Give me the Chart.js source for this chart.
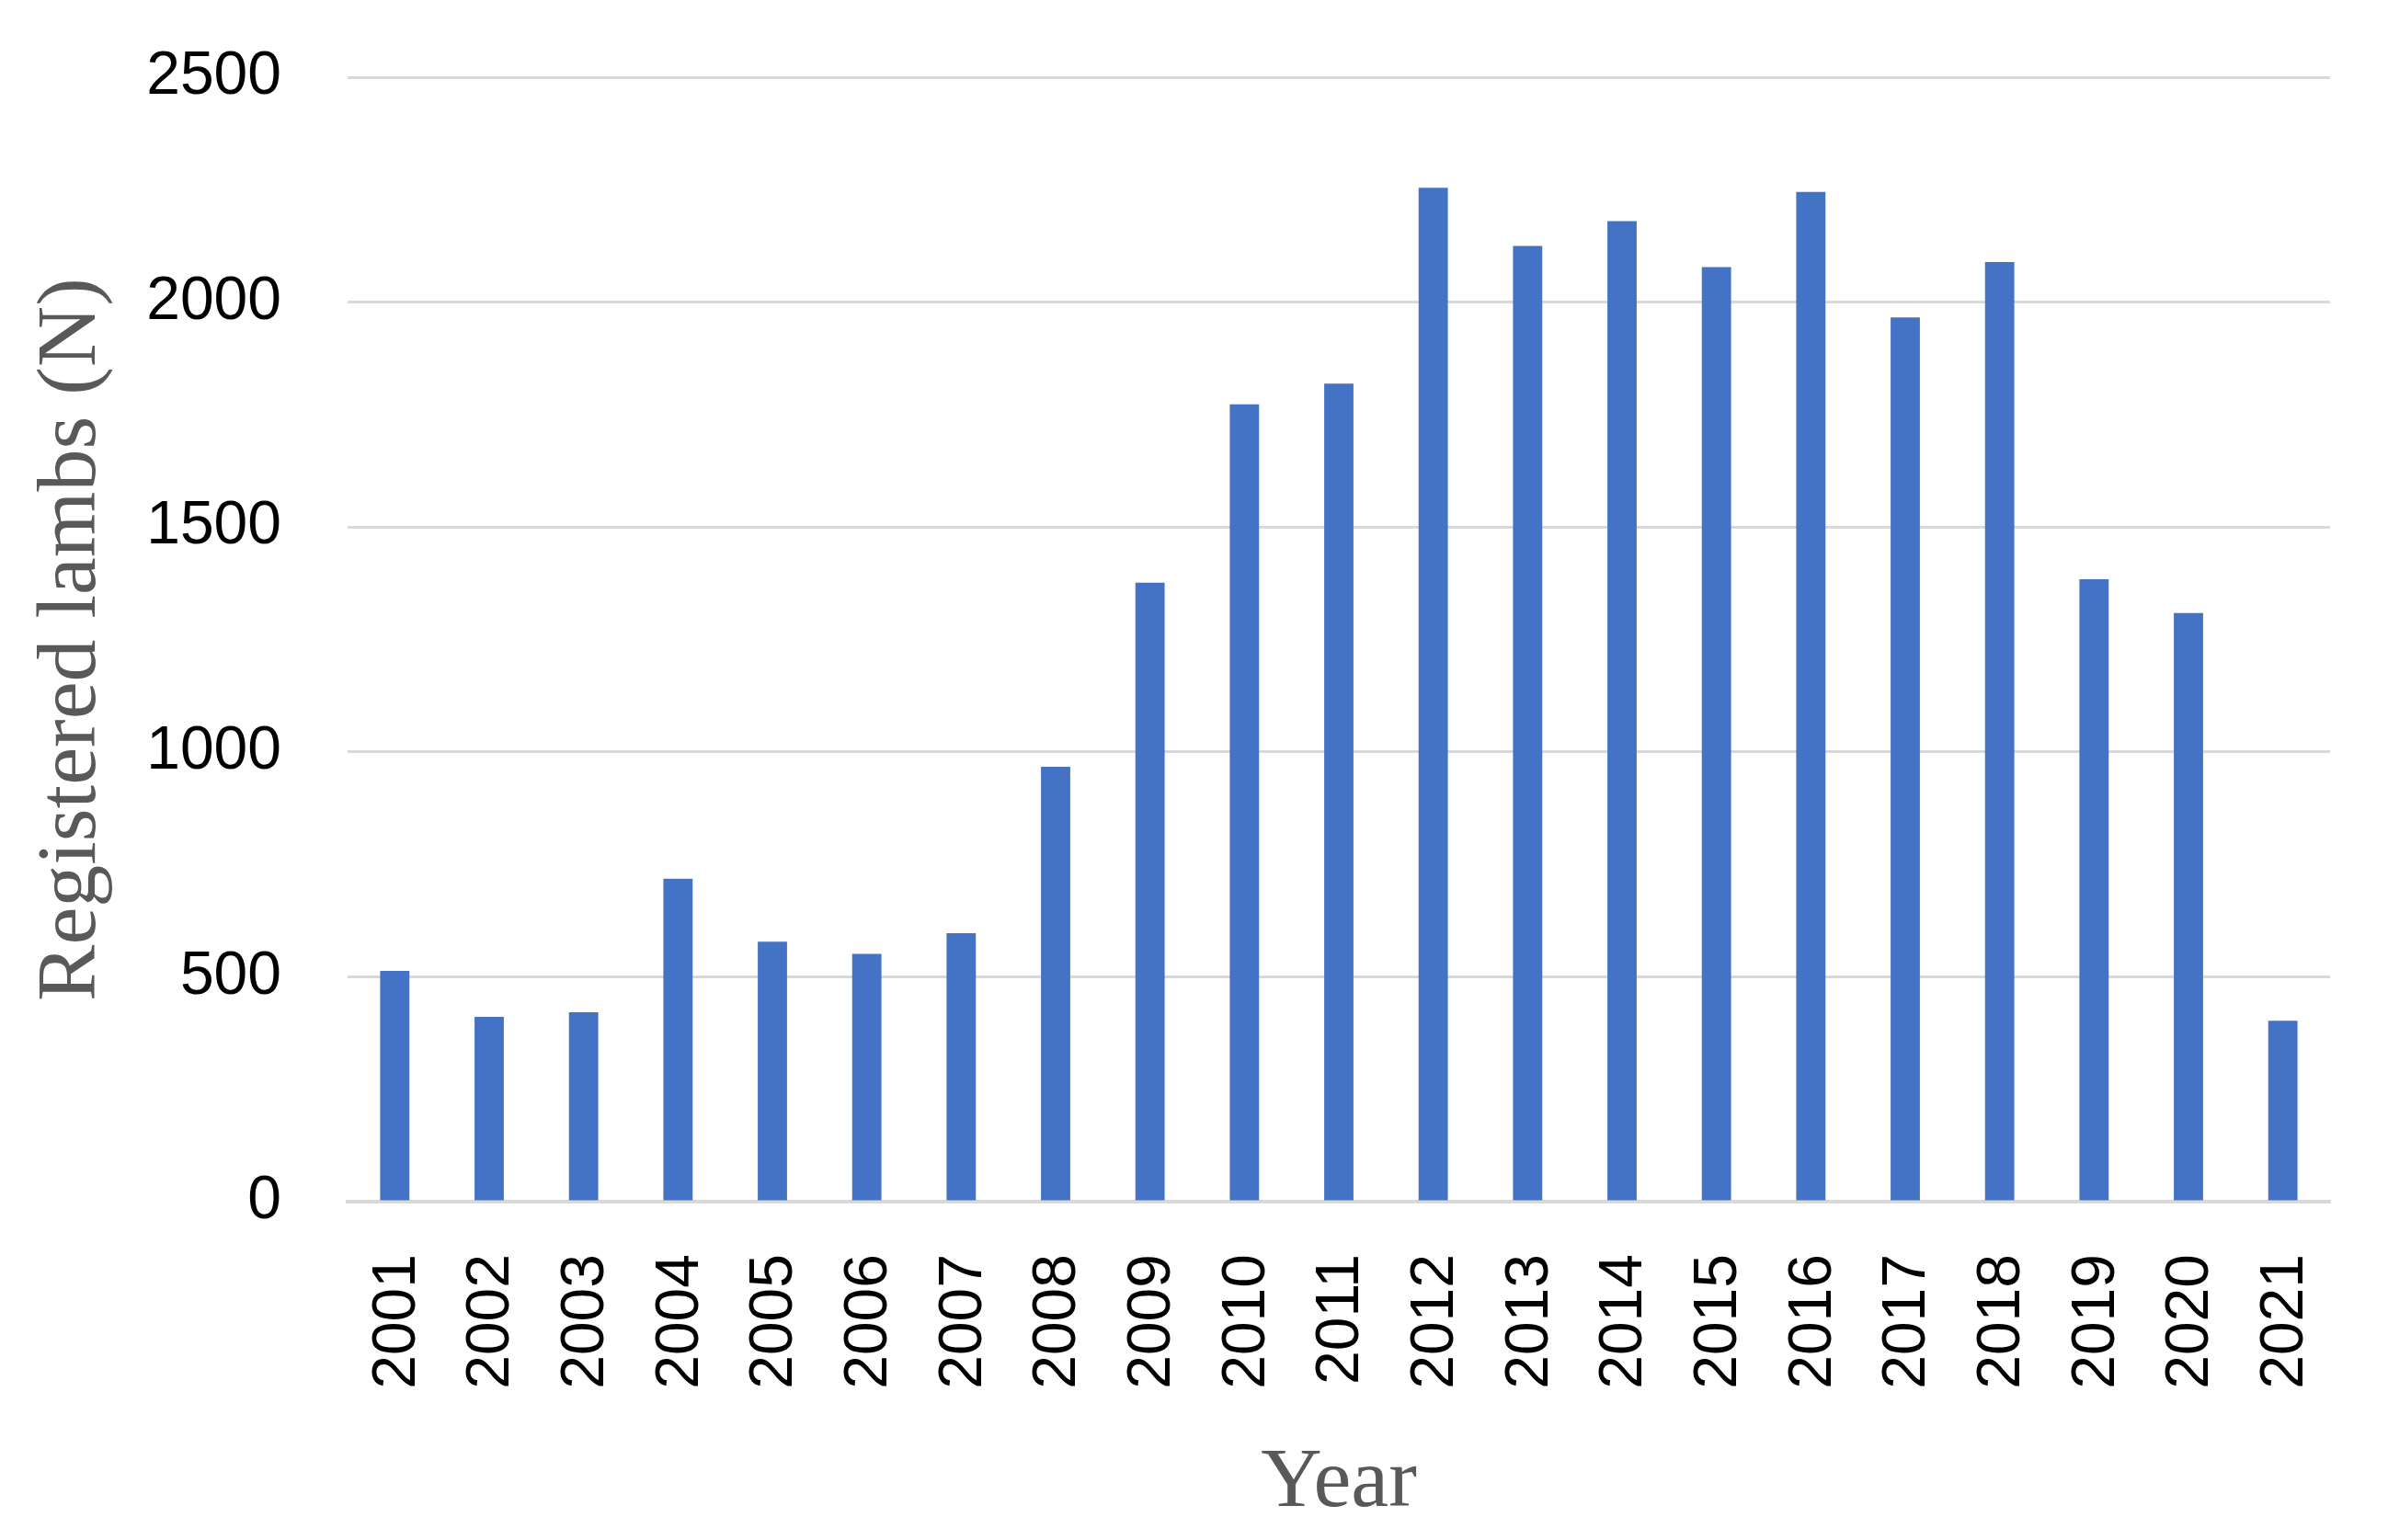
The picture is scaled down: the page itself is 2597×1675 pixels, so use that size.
<!DOCTYPE html>
<html>
<head>
<meta charset="utf-8">
<script src="https://cdn.jsdelivr.net/npm/chart.js@4"></script>
<style>
  html, body { margin: 0; padding: 0; background: #ffffff; }
  #wrap { width: 2597px; height: 1675px; position: relative; }
  canvas { display: block; }
</style>
</head>
<body>
<div id="wrap"><canvas id="c" width="2597" height="1675"></canvas></div>
<script>
const years = ['2001','2002','2003','2004','2005','2006','2007','2008','2009','2010','2011',
               '2012','2013','2014','2015','2016','2017','2018','2019','2020','2021'];
const registeredLambs = [513, 411, 421, 718, 578, 551, 597, 967, 1376, 1773, 1819,
                         2254, 2125, 2180, 2078, 2245, 1966, 2089, 1384, 1309, 402];
const yTicks = [0, 500, 1000, 1500, 2000, 2500];
const yTitle = 'Registered lambs (N)';
const xTitle = 'Year';

const ctx = document.getElementById('c').getContext('2d');
new Chart(ctx, {
  type: 'bar',
  data: {
    labels: years,
    datasets: [{
      label: yTitle,
      data: registeredLambs,
      backgroundColor: '#4472C4',
      borderWidth: 0,
      categoryPercentage: 1.0,
      barPercentage: 0.31
    }]
  },
  options: {
    responsive: false,
    animation: false,
    devicePixelRatio: 1,
    layout: { padding: { left: 0, top: 84, right: 63, bottom: 0 } },
    plugins: { legend: { display: false }, tooltip: { enabled: false } },
    scales: {
      x: {
        grid: { display: false, drawTicks: false },
        border: { display: true, color: '#d9d9d9', width: 4 },
        ticks: {
          autoSkip: false,
          maxRotation: 90,
          minRotation: 90,
          padding: 57,
          labelOffset: 3,
          color: '#000000',
          font: { family: 'Liberation Sans', size: 66 }
        },
        title: {
          display: true,
          text: xTitle,
          color: '#595959',
          font: { family: 'Liberation Serif', size: 92 },
          padding: { top: 0, bottom: 6 }
        },
        afterFit: (scale) => {
          scale.height = 368;
          scale.paddingLeft = 0; scale.paddingRight = 0;
          scale.paddingTop = 0; scale.paddingBottom = 0;
        }
      },
      y: {
        min: 0,
        max: 2500,
        afterBuildTicks: (scale) => { scale.ticks = yTicks.map(v => ({ value: v })); },
        grid: { color: '#d9d9d9', lineWidth: 3, drawTicks: false },
        border: { display: false },
        ticks: {
          padding: 72,
          color: '#000000',
          font: { family: 'Liberation Sans', size: 66 },
          callback: (v) => String(v)
        },
        title: {
          display: true,
          text: yTitle,
          color: '#595959',
          font: { family: 'Liberation Serif', size: 92 },
          padding: { top: 24, bottom: 0 }
        },
        afterFit: (scale) => {
          scale.width = 378;
          scale.paddingLeft = 0; scale.paddingRight = 0;
          scale.paddingTop = 0; scale.paddingBottom = 0;
        }
      }
    }
  }
});
</script>
</body>
</html>
